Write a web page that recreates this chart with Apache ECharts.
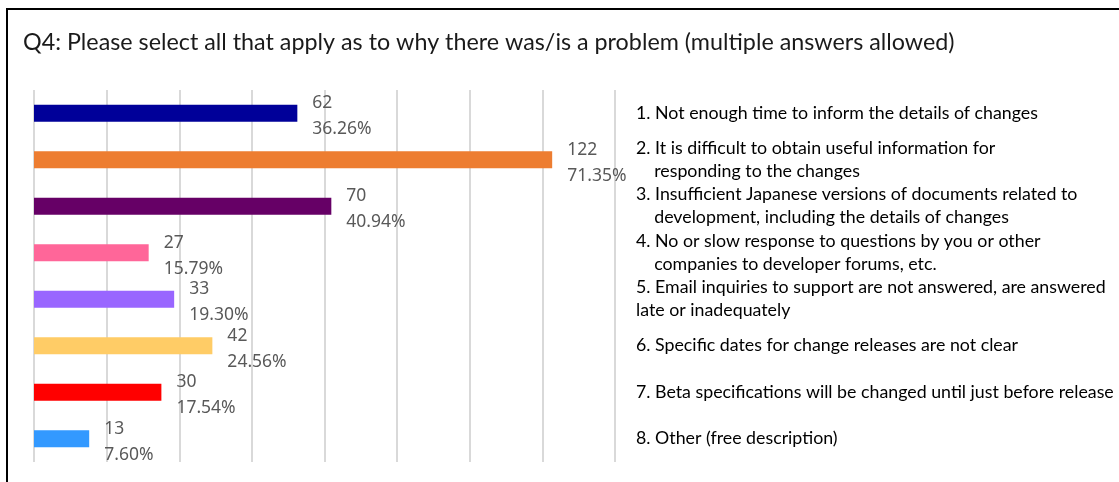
<!DOCTYPE html>
<html>
<head>
<meta charset="utf-8">
<style>
  html, body { margin: 0; padding: 0; background: #fff; }
  #chart { width: 1119px; height: 482px; }
</style>
<script src="https://cdn.jsdelivr.net/npm/echarts@6/dist/echarts.min.js"></script>
</head>
<body>
<div id="chart"></div>
<script>
// 回答項目（ラベルの改行とインデントは元図のまま）
const categories = [
  '1. Not enough time to inform the details of changes',
  '2. It is difficult to obtain useful information for\n    responding to the changes',
  '3. Insufficient Japanese versions of documents related to\n    development, including the details of changes',
  '4. No or slow response to questions by you or other\n    companies to developer forums, etc.',
  '5. Email inquiries to support are not answered, are answered\nlate or inadequately',
  '6. Specific dates for change releases are not clear',
  '7. Beta specifications will be changed until just before release',
  '8. Other (free description)'
];
const counts = [62, 122, 70, 27, 33, 42, 30, 13];
const percents = [36.26, 71.35, 40.94, 15.79, 19.30, 24.56, 17.54, 7.60];
const barColors = ['#000099', '#ED7D31', '#660066', '#FF6699', '#9966FF', '#FFCC66', '#FF0000', '#3399FF'];

const chart = echarts.init(document.getElementById('chart'));

const option = {
  animation: false,
  title: {
    text: 'Q4: Please select all that apply as to why there was/is a problem (multiple answers allowed)',
    left: 18,
    top: 26,
    textStyle: {
      fontFamily: 'Lato',
      fontSize: 23.3,
      fontWeight: 'normal',
      color: '#1a1a1a'
    }
  },
  // 外枠
  graphic: [
    {
      type: 'rect',
      shape: { x: 7, y: 9, width: 1200, height: 600 },
      style: { fill: 'none', stroke: '#000', lineWidth: 2 },
      silent: true
    }
  ],
  grid: {
    left: 34,
    right: 504,
    top: 90,
    bottom: 20
  },
  xAxis: {
    type: 'value',
    min: 0,
    max: 80,
    interval: 10,
    axisLabel: { show: false },
    axisLine: { show: false },
    axisTick: { show: false },
    splitLine: {
      show: true,
      lineStyle: { color: '#d9d9d9', width: 2 }
    }
  },
  yAxis: {
    type: 'category',
    inverse: true,
    position: 'right',
    data: categories,
    axisLine: { show: false },
    axisTick: { show: false },
    axisLabel: {
      interval: 0,
      margin: 21,
      align: 'left',
      fontFamily: 'Lato',
      fontSize: 17.8,
      lineHeight: 23,
      color: '#000'
    }
  },
  series: [
    {
      type: 'bar',
      barWidth: 17,
      data: percents.map((v, i) => ({ value: v, itemStyle: { color: barColors[i] } })),
      label: {
        show: true,
        position: 'right',
        distance: 15,
        offset: [0, 3],
        align: 'left',
        fontFamily: 'Noto Sans',
        fontSize: 17.5,
        lineHeight: 26,
        color: '#595959',
        formatter: (p) => counts[p.dataIndex] + '\n' + p.value.toFixed(2) + '%'
      }
    }
  ]
};

chart.setOption(option);
</script>
</body>
</html>
